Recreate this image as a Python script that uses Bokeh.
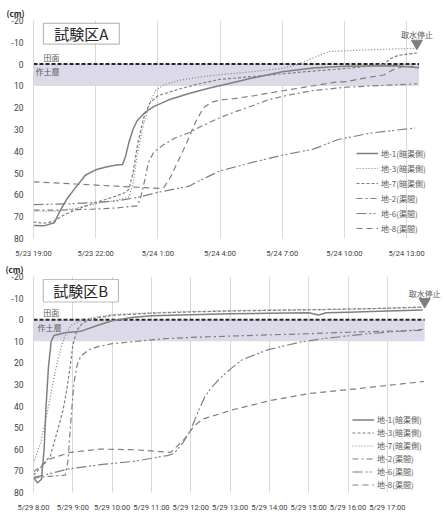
from bokeh.plotting import figure
from bokeh.models import Range1d, FixedTicker, Label, BoxAnnotation, Legend, LegendItem, Title
from bokeh.layouts import column
from bokeh.embed import file_html
from bokeh.resources import INLINE

FONT = "Noto Sans CJK JP"
NUMFONT = "Roboto"
GREY = "#7f7f7f"
TXT = "#595959"

# ---------------- data : panel A (hours from 5/23 19:00) ----------------
A_TICKS = [0, 3, 6, 9, 12, 15, 18]
A_TICK_LABELS = ["5/23 19:00", "5/23 22:00", "5/24 1:00", "5/24 4:00",
                 "5/24 7:00", "5/24 10:00", "5/24 13:00"]
A_END = 18.6
A_STOP_T = [18.5]
A_STOP_V = [-9.5]

A_T_1 = [0, 0.5, 1.0, 1.3, 1.6, 2.0, 2.5, 3.0, 3.5, 4.0, 4.3, 4.45, 4.6, 4.8, 5.0, 5.4, 5.8, 6.5, 7.5, 8.5, 9.5, 10.5, 12.0, 13.5, 15.0, 17.5, 18.6]
A_V_1 = [74, 74.2, 72.8, 67, 62, 57, 51, 48.5, 47.2, 46.3, 46, 42, 36, 30, 26, 22, 19.5, 16.5, 13.5, 11, 8.8, 6.5, 3.5, 1.8, 1.0, 0.8, 1.7]

A_T_3 = [0, 1, 2, 3, 4, 4.6, 4.8, 5.0, 5.3, 5.6, 5.9, 6.3, 7.0, 8.0, 9.0, 10.0, 11.0, 12.0, 12.8, 13.4, 14.3, 15.5, 17.0, 18.5]
A_V_3 = [67.5, 67.5, 66.3, 64, 62.5, 61, 55, 42, 28, 18, 12, 9.5, 7.5, 6, 4.8, 4, 3, 2, 0, -2.5, -5.8, -6.3, -6.8, -7.3]

A_T_7 = [0, 0.5, 1.0, 1.5, 2.0, 2.7, 3.5, 4.0, 4.4, 4.6, 4.8, 5.0, 5.3, 5.6, 6.0, 7.0, 8.0, 9.0, 10.6, 13.0, 15.4, 16.9, 17.2, 17.6, 18.5]
A_V_7 = [72.5, 73, 72, 69, 67, 64.5, 62, 60.5, 59, 57.5, 50, 38, 25, 18, 14.5, 11.5, 9, 7, 5.7, 3.6, 1.7, 0.2, -2.4, -4, -5.1]

A_T_2 = [0, 1, 2, 3, 4, 5.0, 5.15, 5.35, 5.55, 5.8, 6.2, 6.8, 7.5, 8.1, 9.0, 9.7, 10.6, 11.3, 12.2, 13.5, 15.1, 18.5]
A_V_2 = [67, 67, 66.8, 66.5, 66, 65, 62, 54, 45, 40.5, 37.5, 34, 31.5, 28.5, 24.5, 22, 19, 16.5, 14.4, 12.1, 10.6, 9.0]

A_T_6 = [0, 2, 4, 5, 6, 7, 7.5, 8, 9, 10.6, 11.9, 13.5, 14.7, 16.3, 18.4]
A_V_6 = [64.5, 64, 62.8, 61.2, 58.8, 57, 56, 53.5, 49, 45, 42, 39, 34.6, 31.6, 29.3]

A_T_8 = [0, 1, 2, 3, 4, 5, 6, 6.3, 6.6, 7.0, 7.4, 7.8, 8.2, 8.6, 9.0, 9.7, 10.7, 12.1, 13.1, 14.5, 15.1, 16.1, 16.9, 17.4, 17.8, 18.6]
A_V_8 = [54, 54.5, 55, 55.5, 56, 56.5, 57, 56.5, 52, 44, 36, 27, 20, 17.5, 16.5, 15.8, 14.4, 12.1, 10.6, 8.4, 8, 6.2, 5, 2.4, 1.2, 0.9]

# ---------------- data : panel B (hours from 5/29 8:00) ----------------
B_TICKS = [0, 1, 2, 3, 4, 5, 6, 7, 8, 9]
B_TICK_LABELS = ["5/29 8:00", "5/29 9:00", "5/29 10:00", "5/29 11:00", "5/29 12:00",
                 "5/29 13:00", "5/29 14:00", "5/29 15:00", "5/29 16:00", "5/29 17:00"]
B_END = 9.95
B_STOP_T = [9.95]
B_STOP_V = [-8.3]

B_T_1 = [0, 0.1, 0.2, 0.27, 0.32, 0.38, 0.45, 0.52, 0.8, 1.2, 1.6, 2.0, 2.5, 3.0, 4.0, 5.0, 6.0, 7.0, 7.25, 7.45, 8.0, 9.0, 9.9]
B_V_1 = [73, 75.5, 74, 60, 40, 22, 10, 7.3, 6, 5.4, 2.8, 0.5, -1, -1.8, -2.3, -2.7, -3.0, -3.2, -2.2, -3.2, -3.5, -4.0, -4.5]

B_T_3 = [0, 0.2, 0.43, 0.6, 0.75, 0.85, 0.93, 1.0, 1.1, 1.25, 1.5, 2.0, 3.0, 4.0, 5.0, 6.0, 7.0, 8.0, 9.0, 9.9]
B_V_3 = [72, 68, 63, 52, 42, 32, 22, 12, 5, 1.5, -0.5, -2, -3, -3.6, -4, -4.3, -4.6, -4.9, -5.3, -5.9]

B_T_7 = [0, 0.18, 0.3, 0.43, 0.52, 0.6, 0.7, 0.77, 0.94, 1.28, 2.0, 3.0, 4.0, 5.0, 6.0, 7.0, 8.0, 9.0, 9.9]
B_V_7 = [66.5, 57, 47, 36, 27, 20, 13, 8.8, 2.8, -0.2, -2.4, -3.2, -3.8, -4.2, -4.5, -4.6, -4.9, -5.3, -5.7]

B_T_2 = [0, 0.4, 0.81, 0.88, 0.93, 0.98, 1.03, 1.11, 1.2, 1.4, 1.62, 2.0, 2.47, 3.32, 4.16, 5.0, 6.0, 7.0, 8.0, 9.0, 9.9]
B_V_2 = [73.4, 72.5, 72, 65, 52, 40, 29, 21, 17, 14, 12.6, 11.1, 10.3, 8.8, 8.1, 7.6, 7, 6.5, 5.8, 5.3, 4.9]

B_T_6 = [0, 0.26, 0.86, 1.7, 2.55, 3.4, 3.57, 3.8, 4.0, 4.2, 4.35, 4.5, 4.75, 5.0, 5.3, 5.95, 6.8, 7.5, 8.5, 9.9]
B_V_6 = [73, 72, 69.2, 67.1, 65.6, 62.9, 62, 57, 51, 42, 36, 32, 27, 23, 18.6, 14, 10.3, 8.5, 6.5, 4.5]

B_T_8 = [0, 0.43, 0.94, 1.7, 2.55, 3.49, 3.83, 4.08, 4.3, 4.76, 5.0, 6.03, 7.05, 8.15, 9.93]
B_V_8 = [70.4, 64.4, 61.4, 59.9, 60.2, 61.4, 55.4, 49.4, 46, 43.5, 42, 37.4, 34.1, 32.1, 28.6]

SURFACE = 0
TOPSOIL = 10
Y_TICKS = [-20, -10, 0, 10, 20, 30, 40, 50, 60, 70, 80]

NAMES = ["地-1(暗渠側)", "地-3(暗渠側)", "地-7(暗渠側)", "地-2(渠間)", "地-6(渠間)", "地-8(渠間)"]

SOLID = dict(line_dash="solid", line_width=1.5)
DOT = dict(line_dash="1 2", line_width=1.2)
SDASH = dict(line_dash="3 2", line_width=1.2)
DASHDOT = dict(line_dash="6 3 2 3", line_width=1.2)
DASHDOTDOT = dict(line_dash="10 3 2 2 2 3", line_width=1.2)
LDASH = dict(line_dash="6 4", line_width=1.2)


def panel(title, ticks, tick_labels, x_end, height, top, bottom, left,
          series, styles, end, stop_t, stop_v, stop_text_x, stop_text_y,
          box, title_xy, legend_loc, leg_h, leg_sp):
    p = figure(width=445, height=height, x_range=Range1d(0, x_end), y_range=Range1d(80, -20),
               output_backend="svg", toolbar_location=None,
               min_border_left=left, min_border_right=0, min_border_top=top,
               min_border_bottom=bottom)
    p.title = Title(text="(cm)", align="left", offset=-(left - 5), standoff=3,
                    text_font=FONT, text_font_size="8px", text_color="#262626",
                    text_font_style="bold")
    p.outline_line_color = None
    p.background_fill_color = "white"
    p.ygrid.visible = False
    p.xgrid.grid_line_color = "#d9d9d9"
    p.xgrid.grid_line_width = 1
    p.xaxis.ticker = FixedTicker(ticks=ticks)
    p.xaxis.major_label_overrides = {t: l for t, l in zip(ticks, tick_labels)}
    p.yaxis.ticker = FixedTicker(ticks=Y_TICKS)
    p.yaxis.major_label_overrides = {t: str(t) for t in Y_TICKS}
    for ax in (p.xaxis, p.yaxis):
        ax.major_tick_line_color = None
        ax.minor_tick_line_color = None
        ax.major_label_text_font = NUMFONT
        ax.major_label_text_color = "#404040"
    p.xaxis.major_label_text_font_size = "7.5px"
    p.yaxis.major_label_text_font_size = "8.5px"
    p.xaxis.axis_line_color = None
    p.yaxis.axis_line_color = "#d9d9d9"
    p.xaxis.major_label_standoff = 4
    p.yaxis.major_label_standoff = 4

    # topsoil band & surface line
    p.quad(left=[0], right=[end], top=[SURFACE], bottom=[TOPSOIL], fill_color="#dcd9e8",
           line_color=None)
    p.line([0, end], [SURFACE, SURFACE], line_color="#262626", line_width=2, line_dash="4 2")

    items = []
    for (t, v), st, name in zip(series, styles, NAMES):
        r = p.line(t, v, line_color=GREY, line_join="round", **st)
        items.append(LegendItem(label=name, renderers=[r]))

    leg = Legend(items=items, location=legend_loc, border_line_color=None,
                 background_fill_alpha=0, padding=0, margin=0, spacing=leg_sp,
                 glyph_width=22, glyph_height=leg_h, label_height=leg_h, label_standoff=3,
                 label_text_font=FONT, label_text_font_size="8px", label_text_color=TXT)
    p.add_layout(leg)

    # stop marker
    p.scatter(stop_t, stop_v, marker="inverted_triangle", size=11, color=GREY)
    p.add_layout(Label(x=stop_text_x, y=stop_text_y, text="取水停止", text_align="center",
                       text_baseline="middle", text_font=FONT, text_font_size="8px",
                       text_color=TXT))

    # title box
    p.add_layout(BoxAnnotation(left=box[0], right=box[1], top=box[2], bottom=box[3],
                               fill_color="white", fill_alpha=1, line_color="#262626",
                               line_width=1.2))
    p.add_layout(Label(x=title_xy[0], y=title_xy[1], text=title, text_align="center",
                       text_baseline="middle", text_font=FONT, text_font_size="15px",
                       text_color="#262626"))
    # annotations
    p.add_layout(Label(x=box[0], y=-3.2, text="田面", text_baseline="middle",
                       text_font=FONT, text_font_size="8px", text_color=TXT))
    p.add_layout(Label(x=0.1, y=3.6, text="作土層", text_baseline="middle",
                       text_font=FONT, text_font_size="8px", text_color=TXT))
    return p


pA = panel("試験区A", A_TICKS, A_TICK_LABELS, 19.88, 260, 20, 17, 32,
           [(A_T_1, A_V_1), (A_T_3, A_V_3), (A_T_7, A_V_7), (A_T_2, A_V_2), (A_T_6, A_V_6), (A_T_8, A_V_8)],
           [SOLID, DOT, SDASH, DASHDOT, DASHDOTDOT, LDASH],
           A_END, A_STOP_T, A_STOP_V, 18.5, -13.6,
           (0.48, 4.14, -18.7, -9.2), (2.31, -13.9), (323, 4), 12, 3)

pB = panel("試験区B", B_TICKS, B_TICK_LABELS, 10.48, 254, 16, 16, 33,
           [(B_T_1, B_V_1), (B_T_3, B_V_3), (B_T_7, B_V_7), (B_T_2, B_V_2), (B_T_6, B_V_6), (B_T_8, B_V_8)],
           [SOLID, SDASH, DOT, DASHDOT, DASHDOTDOT, LDASH],
           B_END, B_STOP_T, B_STOP_V, 9.95, -11.9,
           (0.25, 2.16, -18.6, -8.2), (1.2, -13.4), (319, 2), 11, 2)

layout = column(pA, pB, spacing=0)
open("out.html", "w").write(file_html(layout, INLINE))
